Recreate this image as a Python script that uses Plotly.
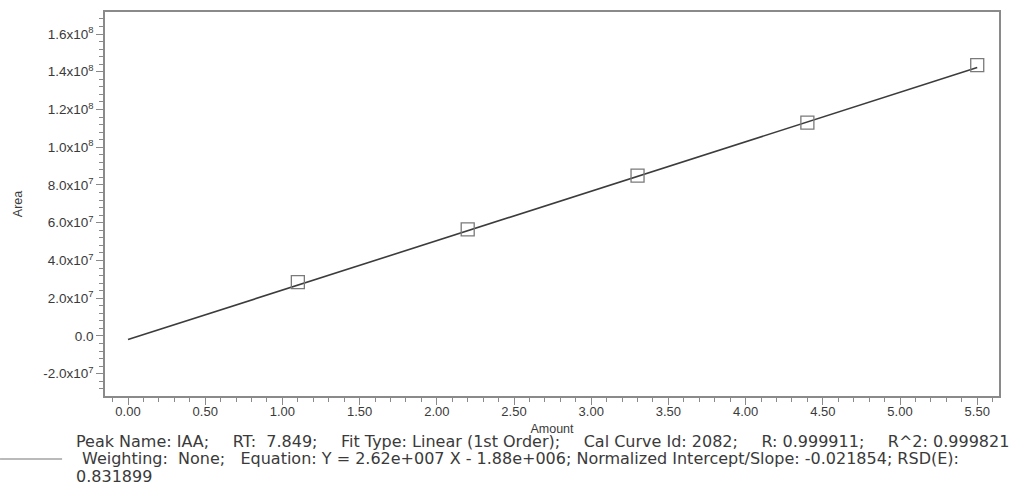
import plotly.graph_objects as go

# Data
amount = [1.1, 2.2, 3.3, 4.4, 5.5]
area = [2.85e7, 5.65e7, 8.5e7, 1.13e8, 1.435e8]

fit_x = [0.0, 5.5]
fit_y = [-1.88e6, 1.4222e8]

y_tickvals = [-2e7, 0, 2e7, 4e7, 6e7, 8e7, 1e8, 1.2e8, 1.4e8, 1.6e8]
y_ticktext = ["-2.0x10<sup>7</sup>", "0.0", "2.0x10<sup>7</sup>", "4.0x10<sup>7</sup>",
              "6.0x10<sup>7</sup>", "8.0x10<sup>7</sup>", "1.0x10<sup>8</sup>",
              "1.2x10<sup>8</sup>", "1.4x10<sup>8</sup>", "1.6x10<sup>8</sup>"]
x_tickvals = [0, 0.5, 1, 1.5, 2, 2.5, 3, 3.5, 4, 4.5, 5, 5.5]
x_ticktext = ["0.00", "0.50", "1.00", "1.50", "2.00", "2.50", "3.00", "3.50",
              "4.00", "4.50", "5.00", "5.50"]

GAP = "\u00a0\u00a0\u00a0\u2009 "
legend_lines = [
    "Peak Name: IAA;" + GAP + "RT:\u00a0 7.849;" + GAP + "Fit Type: Linear (1st Order);" + GAP
    + "Cal Curve Id: 2082;" + GAP + "R: 0.999911;" + GAP + "R^2: 0.999821",
    "Weighting:\u00a0 None;\u00a0\u00a0 Equation: Y = 2.62e+007 X - 1.88e+006; Normalized Intercept/Slope: -0.021854; RSD(E):",
    "0.831899",
]
legend_x = [-0.0346, -0.0285, -0.0346]
legend_y = [-0.1185, -0.1615, -0.2109]

FONT = "Liberation Sans, Arial, sans-serif"
LEG_FONT = "DejaVu Sans, Verdana, sans-serif"
AXIS_COLOR = "#8a8a8a"
TEXT_COLOR = "#3a3a3a"

fig = go.Figure()
fig.add_trace(go.Scatter(x=fit_x, y=fit_y, mode="lines",
                         line=dict(color="#3c3c3c", width=1.6),
                         showlegend=False, hoverinfo="skip"))
fig.add_trace(go.Scatter(x=amount, y=area, mode="markers",
                         marker=dict(symbol="square-open", size=13,
                                     color="#7a7a7a", line=dict(width=1.3)),
                         showlegend=False))

fig.update_layout(
    width=1016, height=495,
    margin=dict(l=105, r=17, t=12, b=99),
    paper_bgcolor="white", plot_bgcolor="white",
    font=dict(family=FONT, color=TEXT_COLOR, size=13),
    xaxis=dict(range=[-0.149, 5.641], tickvals=x_tickvals, ticktext=x_ticktext,
               showgrid=False, zeroline=False, showline=True, linecolor=AXIS_COLOR,
               linewidth=1.5, mirror=True, ticks="outside", ticklen=7,
               tickcolor=AXIS_COLOR, tickwidth=1, ticklabelstandoff=-4,
               minor=dict(dtick=0.1, tick0=0, ticks="outside", ticklen=4,
                          tickcolor=AXIS_COLOR, showgrid=False),
               title=dict(text="Amount", font=dict(size=12.5), standoff=6),
               automargin=False),
    yaxis=dict(range=[-3.18e7, 1.7166e8], tickvals=y_tickvals, ticktext=y_ticktext,
               showgrid=False, zeroline=False, showline=True, linecolor=AXIS_COLOR,
               linewidth=1.5, mirror=True, ticks="outside", ticklen=7,
               tickcolor=AXIS_COLOR, tickwidth=1, tickfont=dict(size=13.5),
               minor=dict(dtick=4e6, tick0=0, ticks="outside", ticklen=4,
                          tickcolor=AXIS_COLOR, showgrid=False),
               title=dict(text="Area", font=dict(size=12.5), standoff=18),
               automargin=False),
)

for txt, lx, ly in zip(legend_lines, legend_x, legend_y):
    fig.add_annotation(xref="paper", yref="paper", x=lx, y=ly,
                       xanchor="left", yanchor="middle", align="left", showarrow=False,
                       text=txt, font=dict(family=LEG_FONT, size=16, color=TEXT_COLOR))
# legend swatch line
fig.add_shape(type="line", xref="paper", yref="paper",
              x0=-0.1174, x1=-0.048, y0=-0.164, y1=-0.164,
              line=dict(color="#777777", width=1.2))

fig.write_html("out.html", config={"displayModeBar": False},
               post_script="document.body.style.margin='0';")
